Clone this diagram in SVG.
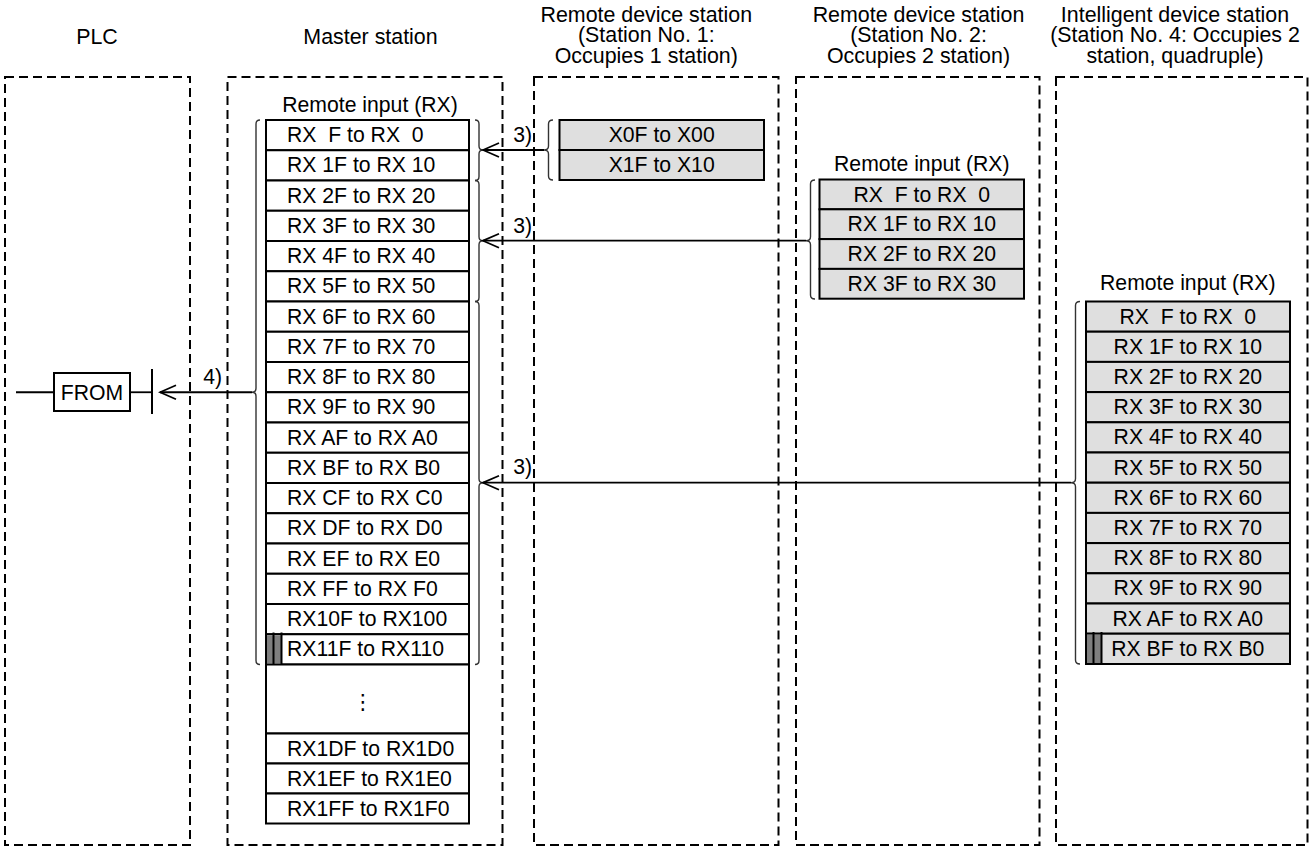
<svg xmlns="http://www.w3.org/2000/svg" width="1309" height="847" viewBox="0 0 1309 847">
<style>
.t{font-family:"Liberation Sans",Arial,sans-serif;font-size:21.2px;fill:#000}
.h{font-size:21.4px;text-anchor:middle}
.c{text-anchor:middle}
.e{text-anchor:end}
.dash{fill:none;stroke:#000;stroke-width:2;stroke-dasharray:9 5}
.w{fill:#fff;stroke:#000;stroke-width:2}
.g{fill:#dfdfdf;stroke:#000;stroke-width:2}
.br{fill:none;stroke:#333;stroke-width:1.4}
.ln{fill:none;stroke:#000;stroke-width:1.8}
.mk{fill:#7f7f7f}
.bar{stroke:#000;stroke-width:2}
</style>
<defs>
<marker id="arr" markerUnits="userSpaceOnUse" viewBox="-18 -9 20 18" markerWidth="20" markerHeight="18" refX="0" refY="0" orient="auto">
<path d="M-16,-7 L0,0 L-16,7" fill="none" stroke="#000" stroke-width="1.8"/>
</marker>
</defs>

<g id="titles">
<text class="t h" x="97" y="43.5">PLC</text>
<text class="t h" x="370.5" y="43.5">Master station</text>
<text class="t h" x="646.3"><tspan x="646.3" y="21.7">Remote device station</tspan><tspan x="646.3" y="42">(Station No. 1:</tspan><tspan x="646.3" y="62.6">Occupies 1 station)</tspan></text>
<text class="t h" x="918.5"><tspan x="918.5" y="21.7">Remote device station</tspan><tspan x="918.5" y="42">(Station No. 2:</tspan><tspan x="918.5" y="62.6">Occupies 2 station)</tspan></text>
<text class="t h" x="1175"><tspan x="1175" y="21.7">Intelligent device station</tspan><tspan x="1175" y="42">(Station No. 4: Occupies 2</tspan><tspan x="1175" y="62.6">station, quadruple)</tspan></text>
</g>

<g id="columns">
<rect class="dash" x="5" y="77" width="185" height="768"/>
<rect class="dash" x="227.5" y="77" width="275" height="768"/>
<rect class="dash" x="534" y="77" width="244.5" height="768"/>
<rect class="dash" x="796" y="77" width="243.5" height="768"/>
<rect class="dash" x="1056" y="77" width="251.5" height="768"/>
</g>

<g id="plc-from">
<line class="ln" x1="16" y1="392.25" x2="54" y2="392.25"/>
<rect x="54" y="373" width="76" height="38" fill="#fff" stroke="#000" stroke-width="2"/>
<text class="t c" x="92" y="399.5">FROM</text>
<line class="ln" x1="130" y1="392.25" x2="152" y2="392.25"/>
<line class="bar" x1="152" y1="369" x2="152" y2="414"/>
</g>

<g id="master">
<text class="t c" x="370" y="112">Remote input (RX)</text>
<g>
<rect class="w" x="266" y="120" width="203" height="30.25"/>
<rect class="w" x="266" y="150.25" width="203" height="30.25"/>
<rect class="w" x="266" y="180.5" width="203" height="30.25"/>
<rect class="w" x="266" y="210.75" width="203" height="30.25"/>
<rect class="w" x="266" y="241" width="203" height="30.25"/>
<rect class="w" x="266" y="271.25" width="203" height="30.25"/>
<rect class="w" x="266" y="301.5" width="203" height="30.25"/>
<rect class="w" x="266" y="331.75" width="203" height="30.25"/>
<rect class="w" x="266" y="362" width="203" height="30.25"/>
<rect class="w" x="266" y="392.25" width="203" height="30.25"/>
<rect class="w" x="266" y="422.5" width="203" height="30.25"/>
<rect class="w" x="266" y="452.75" width="203" height="30.25"/>
<rect class="w" x="266" y="483" width="203" height="30.25"/>
<rect class="w" x="266" y="513.25" width="203" height="30.25"/>
<rect class="w" x="266" y="543.5" width="203" height="30.25"/>
<rect class="w" x="266" y="573.75" width="203" height="30.25"/>
<rect class="w" x="266" y="604" width="203" height="30.25"/>
<rect class="w" x="266" y="634.25" width="203" height="30.25"/>
<rect class="w" x="266" y="664.5" width="203" height="69"/>
<rect class="w" x="266" y="733.5" width="203" height="30"/>
<rect class="w" x="266" y="763.5" width="203" height="30"/>
<rect class="w" x="266" y="793.5" width="203" height="30"/>
<rect class="mk" x="267" y="635.25" width="14.5" height="28.25"/>
<line class="bar" x1="273.5" y1="632.5" x2="273.5" y2="664.5"/>
<line class="bar" x1="281.5" y1="632.5" x2="281.5" y2="664.5"/>
</g>
<g>
<text class="t" x="287" y="142" xml:space="preserve">RX  F to RX  0</text>
<text class="t" x="287" y="172.25">RX 1F to RX 10</text>
<text class="t" x="287" y="202.5">RX 2F to RX 20</text>
<text class="t" x="287" y="232.75">RX 3F to RX 30</text>
<text class="t" x="287" y="263">RX 4F to RX 40</text>
<text class="t" x="287" y="293.25">RX 5F to RX 50</text>
<text class="t" x="287" y="323.5">RX 6F to RX 60</text>
<text class="t" x="287" y="353.75">RX 7F to RX 70</text>
<text class="t" x="287" y="384">RX 8F to RX 80</text>
<text class="t" x="287" y="414.25">RX 9F to RX 90</text>
<text class="t" x="287" y="444.5">RX AF to RX A0</text>
<text class="t" x="287" y="474.75">RX BF to RX B0</text>
<text class="t" x="287" y="505">RX CF to RX C0</text>
<text class="t" x="287" y="535.25">RX DF to RX D0</text>
<text class="t" x="287" y="565.5">RX EF to RX E0</text>
<text class="t" x="287" y="595.75">RX FF to RX F0</text>
<text class="t" x="287" y="626">RX10F to RX100</text>
<text class="t" x="287" y="656.25">RX11F to RX110</text>
<text class="t c" x="363" y="709" style="font-family:'DejaVu Sans',sans-serif;font-size:21px">⋮</text>
<text class="t" x="287" y="755.5">RX1DF to RX1D0</text>
<text class="t" x="287" y="785.5">RX1EF to RX1E0</text>
<text class="t" x="287" y="815.5">RX1FF to RX1F0</text>
</g>
<path class="br" d="M260,120 Q256,120 256,124 L256,388.25 Q256,392.25 252,392.25 Q256,392.25 256,396.25 L256,660.5 Q256,664.5 260,664.5"/>
<path class="br" d="M475,120 Q479,120 479,124 L479,146 Q479,150 483,150 Q479,150 479,154 L479,176.5 Q479,180.5 475,180.5"/>
<path class="br" d="M475,180.5 Q479,180.5 479,184.5 L479,236.7 Q479,240.7 483,240.7 Q479,240.7 479,244.7 L479,297.5 Q479,301.5 475,301.5"/>
<path class="br" d="M475,301.5 Q479,301.5 479,305.5 L479,478.7 Q479,482.7 483,482.7 Q479,482.7 479,486.7 L479,660.5 Q479,664.5 475,664.5"/>
</g>

<g id="station1">
<rect class="g" x="559.5" y="120" width="204.5" height="30"/>
<rect class="g" x="559.5" y="150" width="204.5" height="30"/>
<text class="t c" x="661.7" y="142">X0F to X00</text>
<text class="t c" x="661.7" y="172">X1F to X10</text>
<path class="br" d="M553,120 Q548.5,120 548.5,124 L548.5,146 Q548.5,150 544,150 Q548.5,150 548.5,154 L548.5,176 Q548.5,180 553,180"/>
</g>

<g id="station2">
<text class="t c" x="921.8" y="171">Remote input (RX)</text>
<rect class="g" x="819.5" y="179.5" width="204.5" height="29.8"/>
<rect class="g" x="819.5" y="209.3" width="204.5" height="29.8"/>
<rect class="g" x="819.5" y="239.1" width="204.5" height="29.8"/>
<rect class="g" x="819.5" y="268.9" width="204.5" height="29.8"/>
<text class="t c" x="921.8" y="201.5" xml:space="preserve">RX  F to RX  0</text>
<text class="t c" x="921.8" y="231.3">RX 1F to RX 10</text>
<text class="t c" x="921.8" y="261.1">RX 2F to RX 20</text>
<text class="t c" x="921.8" y="290.9">RX 3F to RX 30</text>
<path class="br" d="M815,180 Q810.5,180 810.5,184 L810.5,236.7 Q810.5,240.7 806,240.7 Q810.5,240.7 810.5,244.7 L810.5,295 Q810.5,299 815,299"/>
</g>

<g id="intelligent">
<text class="t c" x="1187.8" y="290">Remote input (RX)</text>
<rect class="g" x="1086" y="301.5" width="204" height="30.2"/>
<rect class="g" x="1086" y="331.7" width="204" height="30.2"/>
<rect class="g" x="1086" y="361.9" width="204" height="30.2"/>
<rect class="g" x="1086" y="392.1" width="204" height="30.2"/>
<rect class="g" x="1086" y="422.3" width="204" height="30.2"/>
<rect class="g" x="1086" y="452.5" width="204" height="30.2"/>
<rect class="g" x="1086" y="482.7" width="204" height="30.2"/>
<rect class="g" x="1086" y="512.9" width="204" height="30.2"/>
<rect class="g" x="1086" y="543.1" width="204" height="30.2"/>
<rect class="g" x="1086" y="573.3" width="204" height="30.2"/>
<rect class="g" x="1086" y="603.5" width="204" height="30.2"/>
<rect class="g" x="1086" y="633.7" width="204" height="30.3"/>
<rect class="mk" x="1087" y="634.7" width="14.5" height="28.3"/>
<line class="bar" x1="1093.5" y1="632" x2="1093.5" y2="664"/>
<line class="bar" x1="1101.5" y1="632" x2="1101.5" y2="664"/>
<text class="t c" x="1187.8" y="323.5" xml:space="preserve">RX  F to RX  0</text>
<text class="t c" x="1187.8" y="353.7">RX 1F to RX 10</text>
<text class="t c" x="1187.8" y="383.9">RX 2F to RX 20</text>
<text class="t c" x="1187.8" y="414.1">RX 3F to RX 30</text>
<text class="t c" x="1187.8" y="444.3">RX 4F to RX 40</text>
<text class="t c" x="1187.8" y="474.5">RX 5F to RX 50</text>
<text class="t c" x="1187.8" y="504.7">RX 6F to RX 60</text>
<text class="t c" x="1187.8" y="534.9">RX 7F to RX 70</text>
<text class="t c" x="1187.8" y="565.1">RX 8F to RX 80</text>
<text class="t c" x="1187.8" y="595.3">RX 9F to RX 90</text>
<text class="t c" x="1187.8" y="625.5">RX AF to RX A0</text>
<text class="t c" x="1187.8" y="655.7">RX BF to RX B0</text>
<path class="br" d="M1080,301.5 Q1075.5,301.5 1075.5,305.5 L1075.5,478.7 Q1075.5,482.7 1071,482.7 Q1075.5,482.7 1075.5,486.7 L1075.5,660 Q1075.5,664 1080,664"/>
</g>

<g id="connectors">
<line class="ln" x1="544" y1="150" x2="483" y2="150" marker-end="url(#arr)"/>
<line class="ln" x1="806" y1="240.7" x2="483" y2="240.7" marker-end="url(#arr)"/>
<line class="ln" x1="1071" y1="482.7" x2="483" y2="482.7" marker-end="url(#arr)"/>
<line class="ln" x1="252" y1="392.25" x2="160" y2="392.25" marker-end="url(#arr)"/>
<text class="t e" x="532" y="141.5">3)</text>
<text class="t e" x="532" y="232.5">3)</text>
<text class="t e" x="532" y="474">3)</text>
<text class="t e" x="222" y="384">4)</text>
</g>
</svg>
